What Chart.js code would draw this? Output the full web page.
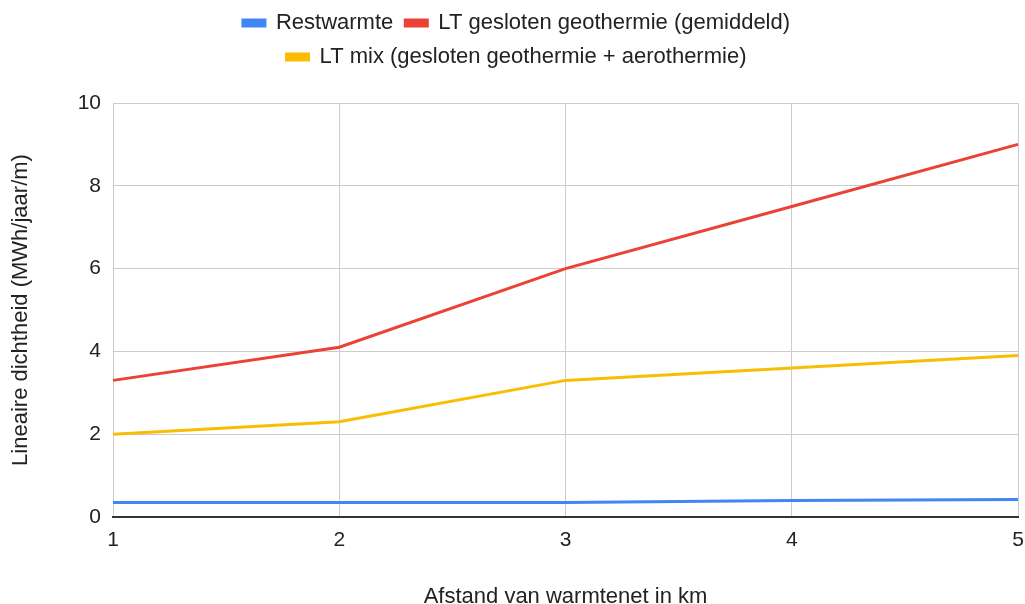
<!DOCTYPE html>
<html>
<head>
<meta charset="utf-8">
<script src="https://cdn.jsdelivr.net/npm/chart.js@4"></script>
<style>
  html, body { margin: 0; padding: 0; background: #fff; }
  #wrap { width: 1025px; height: 604px; }
</style>
</head>
<body>
<div id="wrap"><canvas id="myChart"></canvas></div>
<script>
const afstanden = ["1", "2", "3", "4", "5"];
const restwarmte = [0.35, 0.35, 0.35, 0.4, 0.42];
const ltGesloten = [3.3, 4.1, 6.0, 7.5, 9.0];
const ltMix = [2.0, 2.3, 3.3, 3.6, 3.9];
const yTicks = [0, 2, 4, 6, 8, 10];

const font = "Arial, 'Liberation Sans', sans-serif";

// extra ruimte onder de legenda
const legendSpace = {
  id: "legendSpace",
  beforeLayout(chart) {
    const lg = chart.legend;
    if (lg && !lg._extra) {
      const fit = lg.fit.bind(lg);
      lg.fit = function () {
        fit();
        this.height += 25;
      };
      lg._extra = true;
    }
  },
};

const ctx = document.getElementById("myChart");

const grafico = new Chart(ctx, {
  type: "line",
  data: {
    labels: afstanden,
    datasets: [
      {
        label: "Restwarmte",
        data: restwarmte,
        borderColor: "#4285F4",
        backgroundColor: "#4285F4",
        borderWidth: 3,
        pointRadius: 0,
      },
      {
        label: "LT gesloten geothermie (gemiddeld)",
        data: ltGesloten,
        borderColor: "#EA4335",
        backgroundColor: "#EA4335",
        borderWidth: 3,
        pointRadius: 0,
      },
      {
        label: "LT mix (gesloten geothermie + aerothermie)",
        data: ltMix,
        borderColor: "#FBBC04",
        backgroundColor: "#FBBC04",
        borderWidth: 3,
        pointRadius: 0,
      },
    ],
  },
  plugins: [legendSpace],
  options: {
    responsive: true,
    maintainAspectRatio: false,
    animation: false,
    layout: { padding: { left: 8, right: 0, top: 0, bottom: 0 } },
    plugins: {
      tooltip: { enabled: false },
      legend: {
        position: "top",
        labels: {
          boxWidth: 22,
          boxHeight: 6,
          padding: 12,
          color: "#222",
          font: { family: font, size: 22 },
        },
      },
    },
    scales: {
      x: {
        offset: false,
        grid: { color: "#ccc", drawTicks: false },
        border: { color: "#333", width: 2 },
        ticks: { color: "#222", padding: 11, font: { family: font, size: 21 } },
        title: {
          display: true,
          text: "Afstand van warmtenet in km",
          color: "#222",
          font: { family: font, size: 22 },
          padding: { top: 30, bottom: -6 },
        },
        afterFit: (scale) => {
          scale.height = 87;
          scale.paddingRight = 7;
        },
      },
      y: {
        min: 0,
        max: 10,
        afterBuildTicks: (scale) => {
          scale.ticks = yTicks.map((v) => ({ value: v }));
        },
        grid: { color: "#ccc", drawTicks: false },
        border: { display: false },
        ticks: { color: "#222", padding: 12, font: { family: font, size: 21 } },
        title: {
          display: true,
          text: "Lineaire dichtheid (MWh/jaar/m)",
          color: "#222",
          font: { family: font, size: 22 },
          padding: { top: 0, bottom: 20 },
        },
        afterFit: (scale) => { scale.width = 105; },
      },
    },
  },
});
</script>
</body>
</html>
